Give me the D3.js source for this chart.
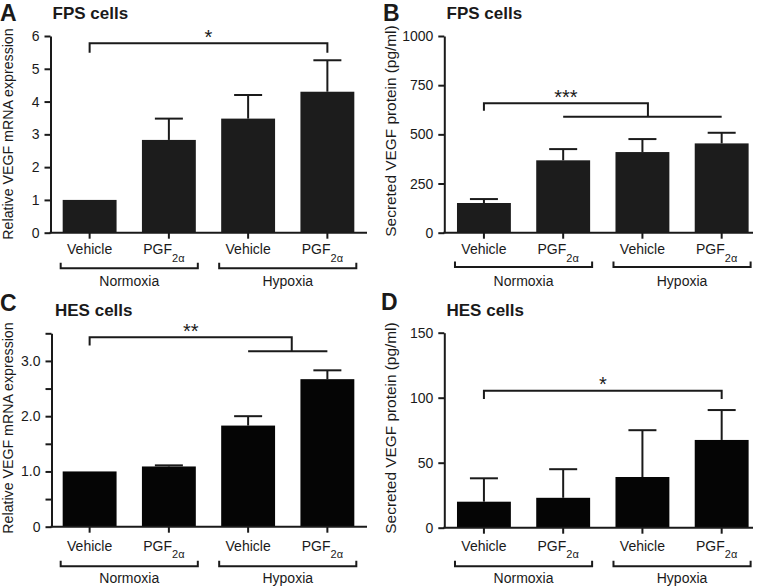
<!DOCTYPE html>
<html>
<head>
<meta charset="utf-8">
<script src="https://cdn.jsdelivr.net/npm/d3@7"></script>
<style>
  html, body { margin: 0; padding: 0; background: #fff; }
  svg { display: block; }
  text { font-family: "Liberation Sans", Arial, Helvetica, sans-serif; fill: #1a1a1a; }
</style>
</head>
<body>
<script>
// ---------------- DATA ----------------
const treatments = ["Vehicle", "PGF", "Vehicle", "PGF"];   // "PGF" is drawn as PGF2α
const treatmentSub = ["", "2α", "", "2α"];
const conditions = ["Normoxia", "Hypoxia"];
const conditionMembers = [[0, 1], [2, 3]];

// Panel A: FPS cells, relative VEGF mRNA expression
const fpsMrnaMean = [1.0, 2.83, 3.48, 4.30];
const fpsMrnaSem  = [0.0, 0.65, 0.72, 0.96];
const fpsMrnaTicks = [0, 1, 2, 3, 4, 5, 6];

// Panel B: FPS cells, secreted VEGF protein (pg/ml)
const fpsProtMean = [151, 368, 410, 454];
const fpsProtSem  = [20, 57, 66, 54];
const fpsProtTicks = [0, 250, 500, 750, 1000];

// Panel C: HES cells, relative VEGF mRNA expression
const hesMrnaMean = [1.0, 1.09, 1.83, 2.67];
const hesMrnaSem  = [0.0, 0.02, 0.17, 0.16];
const hesMrnaTicks = [0, 0.5, 1, 1.5, 2, 2.5, 3, 3.5];
const hesMrnaTickLabels = ["0", "", "1.0", "", "2.0", "", "3.0", ""];

// Panel D: HES cells, secreted VEGF protein (pg/ml)
const hesProtMean = [20, 23, 39, 67.5];
const hesProtSem  = [18, 22, 36, 23];
const hesProtTicks = [0, 50, 100, 150];

// Significance annotations (values in data units)
const sigA = { label: "*",   from: 0, to: 3, level: 5.78, drop: 5.49 };
const sigB = { label: "***", from: 0, level: 658, drop: 620, sub: [1, 3], subLevel: 590 };
const sigC = { label: "**",  from: 0, level: 3.43, drop: 3.28, sub: [2, 3], subLevel: 3.175 };
const sigD = { label: "*",   from: 0, to: 3, level: 105.4, drop: 99 };

// ---------------- DRAW ----------------
const svg = d3.select("body").append("svg").attr("width", 762).attr("height", 586);
const INK = "#1a1a1a";

function drawPanel(p) {
  const g = svg.append("g");
  const x = d3.scaleBand().domain(d3.range(p.means.length))
    .range(p.xRange).paddingInner(0.32).paddingOuter(0.16);
  const y = d3.scaleLinear().domain([0, p.ticks[p.ticks.length - 1]]).range(p.yRange);
  const cx = i => x(i) + x.bandwidth() / 2;

  // panel letter + title
  g.append("text").attr("x", p.letterX).attr("y", p.letterY)
    .attr("font-size", 23).attr("font-weight", "bold").text(p.letter);
  g.append("text").attr("x", p.titleX).attr("y", p.titleY)
    .attr("font-size", 17).attr("font-weight", "bold").text(p.title);

  // y label
  g.append("text")
    .attr("transform", `translate(${p.ylabX},${p.ylabY}) rotate(-90)`)
    .attr("text-anchor", "middle").attr("font-size", p.ylabSize).text(p.ylabel);

  // bars
  g.selectAll("rect.bar").data(p.means).join("rect").attr("class", "bar")
    .attr("x", (d, i) => x(i)).attr("width", x.bandwidth())
    .attr("y", d => y(d)).attr("height", d => y(0) - y(d))
    .attr("fill", p.barColor);

  // error bars (upper only)
  const eb = p.means.map((m, i) => ({ i, m, top: m + p.sems[i] })).filter(d => p.sems[d.i] > 0);
  g.selectAll("line.err").data(eb).join("line").attr("class", "err")
    .attr("x1", d => cx(d.i)).attr("x2", d => cx(d.i))
    .attr("y1", d => y(d.m)).attr("y2", d => y(d.top))
    .attr("stroke", INK).attr("stroke-width", 2);
  g.selectAll("line.cap").data(eb).join("line").attr("class", "cap")
    .attr("x1", d => cx(d.i) - 14).attr("x2", d => cx(d.i) + 14)
    .attr("y1", d => y(d.top)).attr("y2", d => y(d.top))
    .attr("stroke", INK).attr("stroke-width", 2);

  // y axis
  const yAxis = d3.axisLeft(y).tickValues(p.ticks).tickSize(6).tickPadding(5).tickSizeOuter(0)
    .tickFormat((d, i) => p.tickLabels ? p.tickLabels[i] : d3.format("d")(d));
  const ya = g.append("g").attr("transform", `translate(${p.axisX},0)`).call(yAxis);
  ya.selectAll("path,line").attr("stroke", INK).attr("stroke-width", 2);
  ya.selectAll("text").attr("font-size", 14).attr("fill", INK)
    .style("font-family", '"Liberation Sans", Arial, sans-serif');

  // x axis
  const xAxis = d3.axisBottom(x).tickSize(6).tickSizeOuter(0).tickFormat(() => "");
  const xa = g.append("g").attr("transform", `translate(0,${y(0)})`).call(xAxis);
  xa.select(".domain").remove();
  xa.selectAll("line").attr("stroke", INK).attr("stroke-width", 2);
  g.append("line").attr("x1", p.axisX - 1).attr("x2", p.axisEnd)
    .attr("y1", y(0)).attr("y2", y(0)).attr("stroke", INK).attr("stroke-width", 2);

  // x tick labels
  treatments.forEach((t, i) => {
    const tx = g.append("text").attr("x", cx(i)).attr("y", y(0) + p.labelOff)
      .attr("text-anchor", "middle").attr("font-size", 14)
      .attr("dx", treatmentSub[i] ? -5 : 0);
    tx.append("tspan").text(t);
    if (treatmentSub[i]) {
      tx.append("tspan").attr("font-size", 11).attr("dy", p.subDy).text(treatmentSub[i]);
    }
  });

  // group brackets
  conditions.forEach((c, k) => {
    const [a, b] = conditionMembers[k];
    const x1 = x(a) - 2, x2 = x(b) + x.bandwidth() + 2;
    const gy = y(0) + p.groupOff;
    g.append("path").attr("d", `M${x1},${gy - 5.5}V${gy}H${x2}V${gy - 5.5}`)
      .attr("fill", "none").attr("stroke", INK).attr("stroke-width", 2);
    g.append("text").attr("x", (x1 + x2) / 2).attr("y", y(0) + p.groupLabelOff)
      .attr("text-anchor", "middle").attr("font-size", 14).text(c);
  });

  // significance
  const s = p.sig;
  let xl = cx(s.from), xr, d;
  if (s.sub) {
    const s1 = cx(s.sub[0]), s2 = cx(s.sub[1]);
    xr = (s1 + s2) / 2 + p.tieShift;
    d = `M${xl},${y(s.drop)}V${y(s.level)}H${xr}V${y(s.subLevel)}`;
    g.append("line").attr("x1", s1).attr("x2", s2)
      .attr("y1", y(s.subLevel)).attr("y2", y(s.subLevel))
      .attr("stroke", INK).attr("stroke-width", 2);
  } else {
    xr = cx(s.to);
    d = `M${xl},${y(s.drop)}V${y(s.level)}H${xr}V${y(s.drop)}`;
  }
  g.append("path").attr("d", d).attr("fill", "none").attr("stroke", INK).attr("stroke-width", 2);
  g.append("text").attr("x", (xl + xr) / 2).attr("y", y(s.level) + 0.5)
    .attr("text-anchor", "middle").attr("font-size", 20).text(s.label);
}

drawPanel({
  letter: "A", letterX: 0, letterY: 21, title: "FPS cells", titleX: 52.5, titleY: 19,
  ylabel: "Relative VEGF mRNA expression", ylabX: 13, ylabY: 134, ylabSize: 14.2,
  means: fpsMrnaMean, sems: fpsMrnaSem, ticks: fpsMrnaTicks,
  xRange: [50, 367], axisX: 50.5, axisEnd: 367, yRange: [232.7, 36],
  barColor: "#1c1c1c", labelOff: 21.3, subDy: 8, groupOff: 35.6, groupLabelOff: 53.3,
  sig: sigA, tieShift: 0
});
drawPanel({
  letter: "B", letterX: 383, letterY: 21, title: "FPS cells", titleX: 446.5, titleY: 19,
  ylabel: "Secreted VEGF protein (pg/ml)", ylabX: 395.5, ylabY: 131, ylabSize: 15.4,
  means: fpsProtMean, sems: fpsProtSem, ticks: fpsProtTicks,
  xRange: [444.3, 761.3], axisX: 444.3, axisEnd: 753, yRange: [232.7, 36],
  barColor: "#1c1c1c", labelOff: 21.3, subDy: 8, groupOff: 34.3, groupLabelOff: 53,
  sig: sigB, tieShift: 5.5
});
drawPanel({
  letter: "C", letterX: 0, letterY: 311, title: "HES cells", titleX: 55, titleY: 316,
  ylabel: "Relative VEGF mRNA expression", ylabX: 13, ylabY: 428, ylabSize: 14.2,
  means: hesMrnaMean, sems: hesMrnaSem, ticks: hesMrnaTicks, tickLabels: hesMrnaTickLabels,
  xRange: [50, 367], axisX: 51.5, axisEnd: 367, yRange: [526.7, 333.3],
  barColor: "#050505", labelOff: 24, subDy: 7.5, groupOff: 39.5, groupLabelOff: 56.5,
  sig: sigC, tieShift: 4
});
drawPanel({
  letter: "D", letterX: 381, letterY: 310, title: "HES cells", titleX: 446.5, titleY: 316,
  ylabel: "Secreted VEGF protein (pg/ml)", ylabX: 395.5, ylabY: 428, ylabSize: 15.4,
  means: hesProtMean, sems: hesProtSem, ticks: hesProtTicks,
  xRange: [444.3, 761.3], axisX: 444.3, axisEnd: 753, yRange: [527.7, 332.7],
  barColor: "#050505", labelOff: 23, subDy: 7.5, groupOff: 38.5, groupLabelOff: 55.5,
  sig: sigD, tieShift: 0
});
</script>
</body>
</html>
